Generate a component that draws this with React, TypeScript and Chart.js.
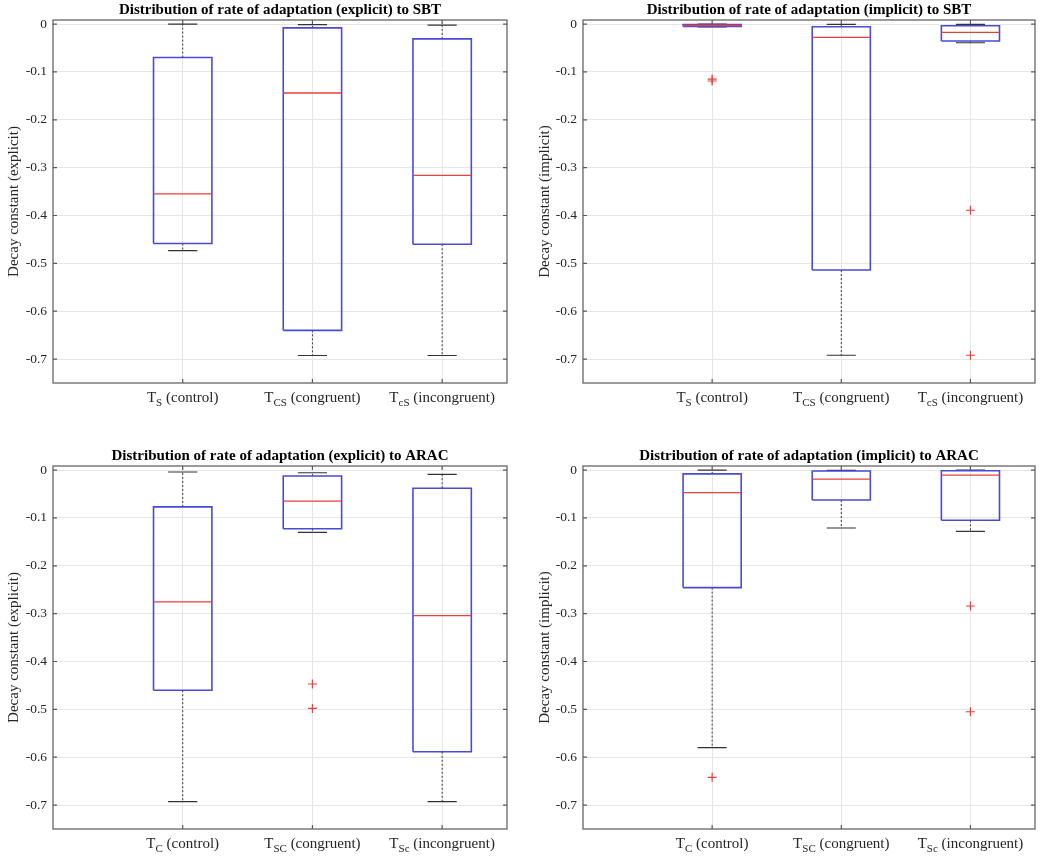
import { useEffect, useRef } from "react"
import { Chart, registerables } from "chart.js"
Chart.register(...registerables)

// Panels, in reading order: SBT explicit, SBT implicit, ARAC explicit, ARAC implicit
const panelTitles = [
  "Distribution of rate of adaptation (explicit) to SBT",
  "Distribution of rate of adaptation (implicit) to SBT",
  "Distribution of rate of adaptation (explicit) to ARAC",
  "Distribution of rate of adaptation (implicit) to ARAC",
]
const yAxisTitles = [
  "Decay constant (explicit)",
  "Decay constant (implicit)",
  "Decay constant (explicit)",
  "Decay constant (implicit)",
]
const groupSubscripts = [
  ["S", "CS", "cS"],
  ["S", "CS", "cS"],
  ["C", "SC", "Sc"],
  ["C", "SC", "Sc"],
]
const conditionNames = ["(control)", "(congruent)", "(incongruent)"]
const yTickValues = [0, -0.1, -0.2, -0.3, -0.4, -0.5, -0.6, -0.7]
const yTickLabels = ["0", "-0.1", "-0.2", "-0.3", "-0.4", "-0.5", "-0.6", "-0.7"]

// box plot statistics, one row per panel, one value per group
const whiskerHigh = [
  [0, -0.001, -0.002],
  [0, -0.0007, -0.0007],
  [-0.004, -0.0056, -0.009],
  [0, -0.0007, 0],
]
const upperQuartile = [
  [-0.07, -0.008, -0.031],
  [-0.001, -0.0056, -0.0035],
  [-0.077, -0.0125, -0.038],
  [-0.008, -0.002, -0.0014],
]
const medians = [
  [-0.355, -0.144, -0.316],
  [-0.003, -0.028, -0.0174],
  [-0.2756, -0.0647, -0.304],
  [-0.0473, -0.0188, -0.0104],
]
const lowerQuartile = [
  [-0.4586, -0.64, -0.46],
  [-0.005, -0.514, -0.0355],
  [-0.46, -0.1225, -0.5887],
  [-0.2456, -0.0626, -0.105],
]
const whiskerLow = [
  [-0.4732, -0.6925, -0.6925],
  [-0.006, -0.692, -0.039],
  [-0.693, -0.13, -0.693],
  [-0.58, -0.121, -0.128],
]
const outliers = [
  [[], [], []],
  [[-0.115, -0.119], [], [-0.389, -0.692]],
  [[], [-0.447, -0.498], []],
  [[-0.642], [], [-0.284, -0.505]],
]

const BOX_HALF = 0.225
const CAP_HALF = 0.1125
const FONT = "'Liberation Serif', 'Times New Roman', serif"
const FRAME = "#595959"
const TEXT = "#262626"

type Pt = { x: number; y: number | null }

function boxDatasets(p: number) {
  const box: Pt[] = []
  const mid: Pt[] = []
  const whisk: Pt[] = []
  const caps: Pt[] = []
  const outs: Pt[] = []
  medians[p].forEach((m, i) => {
    const x = i + 1
    const q1 = lowerQuartile[p][i]
    const q3 = upperQuartile[p][i]
    const hi = whiskerHigh[p][i]
    const lo = whiskerLow[p][i]
    box.push(
      { x: x - BOX_HALF, y: q1 }, { x: x + BOX_HALF, y: q1 },
      { x: x + BOX_HALF, y: q3 }, { x: x - BOX_HALF, y: q3 },
      { x: x - BOX_HALF, y: q1 }, { x, y: null },
    )
    mid.push({ x: x - BOX_HALF, y: m }, { x: x + BOX_HALF, y: m }, { x, y: null })
    whisk.push({ x, y: q3 }, { x, y: hi }, { x, y: null }, { x, y: q1 }, { x, y: lo }, { x, y: null })
    caps.push(
      { x: x - CAP_HALF, y: hi }, { x: x + CAP_HALF, y: hi }, { x, y: null },
      { x: x - CAP_HALF, y: lo }, { x: x + CAP_HALF, y: lo }, { x, y: null },
    )
    outliers[p][i].forEach((v) => outs.push({ x, y: v }))
  })
  const line = { showLine: true, pointRadius: 0, pointHoverRadius: 0, spanGaps: false, fill: false }
  return [
    { ...line, label: "median", data: mid, borderColor: "#e8403c", borderWidth: 1.3 },
    { ...line, label: "box", data: box, borderColor: "#4a4ad8", borderWidth: 1.6 },
    { ...line, label: "whisker", data: whisk, borderColor: "#333333", borderWidth: 1, borderDash: [2, 2] },
    { ...line, label: "cap", data: caps, borderColor: "#333333", borderWidth: 1.2 },
    {
      label: "outliers", data: outs, showLine: false, pointStyle: "cross",
      pointRadius: 4.5, borderColor: "#e8403c", backgroundColor: "#e8403c", pointBorderWidth: 1.2,
    },
  ]
}

// frame, inward ticks and subscripted category labels
const matlabAxes = {
  id: "matlabAxes",
  afterDraw(chart: any, _args: any, opts: any) {
    const { ctx, chartArea: a, scales } = chart
    ctx.save()
    ctx.strokeStyle = FRAME
    ctx.lineWidth = 1.2
    ctx.strokeRect(a.left, a.top, a.right - a.left, a.bottom - a.top)
    ctx.beginPath()
    yTickValues.forEach((v) => {
      const y = scales.y.getPixelForValue(v)
      ctx.moveTo(a.left, y); ctx.lineTo(a.left + 4, y)
      ctx.moveTo(a.right, y); ctx.lineTo(a.right - 4, y)
    })
    conditionNames.forEach((_n, i) => {
      const x = scales.x.getPixelForValue(i + 1)
      ctx.moveTo(x, a.bottom); ctx.lineTo(x, a.bottom - 4)
      ctx.moveTo(x, a.top); ctx.lineTo(x, a.top + 4)
    })
    ctx.stroke()

    ctx.fillStyle = TEXT
    ctx.textBaseline = "middle"
    ctx.textAlign = "left"
    const y = a.bottom + 15
    conditionNames.forEach((name, i) => {
      const x = scales.x.getPixelForValue(i + 1)
      const sub = opts.subscripts[i]
      const rest = " " + name
      ctx.font = `15px ${FONT}`
      const wT = ctx.measureText("T").width
      const wRest = ctx.measureText(rest).width
      ctx.font = `11px ${FONT}`
      const wSub = ctx.measureText(sub).width
      let cx = x - (wT + wSub + wRest) / 2
      ctx.font = `15px ${FONT}`
      ctx.fillText("T", cx, y)
      cx += wT
      ctx.font = `11px ${FONT}`
      ctx.fillText(sub, cx, y + 5)
      cx += wSub
      ctx.font = `15px ${FONT}`
      ctx.fillText(rest, cx, y)
    })
    ctx.restore()
  },
}

function BoxPanel({ index, yAxisWidth, rightPad, titlePad }: { index: number; yAxisWidth: number; rightPad: number; titlePad: number }) {
  const chartRef = useRef<HTMLCanvasElement>(null)

  useEffect(() => {
    if (!chartRef.current) return
    const chart = new Chart(chartRef.current, {
      type: "scatter",
      data: { datasets: boxDatasets(index) as any },
      plugins: [matlabAxes],
      options: {
        animation: false,
        responsive: true,
        maintainAspectRatio: false,
        layout: { padding: { left: 0, right: rightPad, top: 0, bottom: 0 } },
        events: [],
        scales: {
          x: {
            type: "linear",
            min: 0,
            max: 3.5,
            afterBuildTicks: (s: any) => { s.ticks = conditionNames.map((_n, i) => ({ value: i + 1 })) },
            afterFit: (s: any) => { s.height = 37 },
            ticks: { display: false },
            grid: { color: "#e6e6e6", lineWidth: 1, drawTicks: false },
            border: { display: false },
          },
          y: {
            type: "linear",
            min: -0.75,
            max: 0.0085,
            afterBuildTicks: (s: any) => { s.ticks = yTickValues.map((v) => ({ value: v })) },
            afterFit: (s: any) => { s.width = yAxisWidth },
            ticks: {
              padding: 6,
              color: TEXT,
              font: { family: FONT, size: 13.5 },
              callback: (_v: any, i: number) => yTickLabels[i],
            },
            grid: { color: "#e6e6e6", lineWidth: 1, drawTicks: false },
            border: { display: false },
            title: {
              display: true,
              text: yAxisTitles[index],
              color: TEXT,
              font: { family: FONT, size: 15 },
              padding: { top: titlePad, bottom: 0 },
            },
          },
        },
        plugins: {
          legend: { display: false },
          tooltip: { enabled: false },
          title: {
            display: true,
            text: panelTitles[index],
            fullSize: false,
            color: "#000",
            font: { family: FONT, size: 15, weight: "bold" },
            padding: { top: 1, bottom: 1 },
          },
          matlabAxes: { subscripts: groupSubscripts[index] },
        } as any,
      },
    })
    return () => chart.destroy()
  }, [index, yAxisWidth, rightPad, titlePad])

  return <canvas ref={chartRef}></canvas>
}

const panels = [
  { left: 0, top: 0, width: 520, yAxisWidth: 53, rightPad: 13, titlePad: 5 },
  { left: 520, top: 0, width: 533, yAxisWidth: 63, rightPad: 18, titlePad: 16 },
  { left: 0, top: 446, width: 520, yAxisWidth: 53, rightPad: 13, titlePad: 5 },
  { left: 520, top: 446, width: 533, yAxisWidth: 63, rightPad: 18, titlePad: 16 },
]

export default function App() {
  return (
    <div style={{ position: "absolute", left: 0, top: 0, width: 1053, height: 867, background: "#fff" }}>
      {panels.map((p, i) => (
        <div key={i} style={{ position: "absolute", left: p.left, top: p.top, width: p.width, height: 420 }}>
          <BoxPanel index={i} yAxisWidth={p.yAxisWidth} rightPad={p.rightPad} titlePad={p.titlePad} />
        </div>
      ))}
    </div>
  )
}
